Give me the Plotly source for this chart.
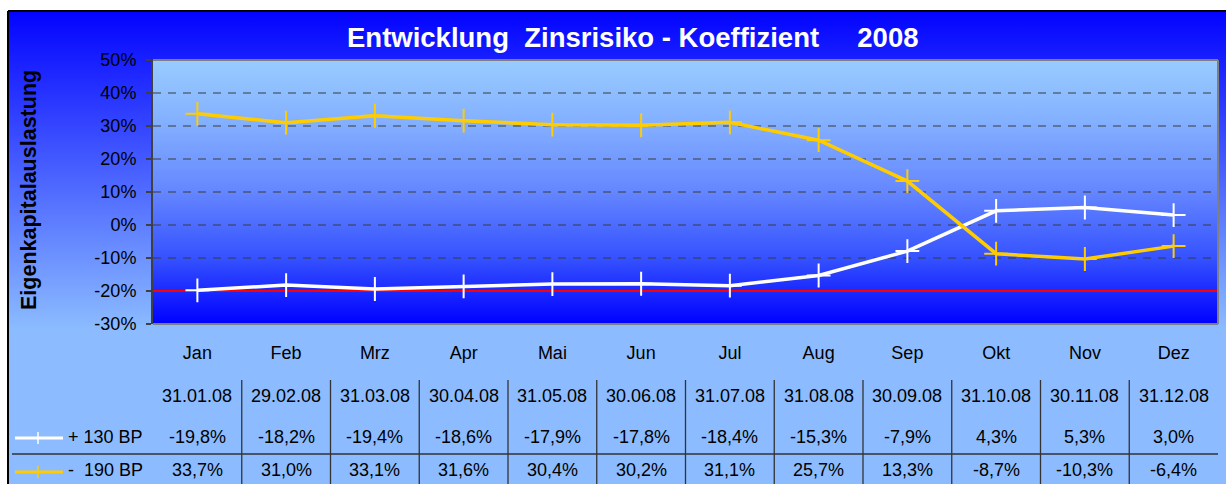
import base64
import plotly.graph_objects as go

# ---------------- data ----------------
months = ["Jan", "Feb", "Mrz", "Apr", "Mai", "Jun", "Jul", "Aug", "Sep", "Okt", "Nov", "Dez"]
dates = ["31.01.08", "29.02.08", "31.03.08", "30.04.08", "31.05.08", "30.06.08",
         "31.07.08", "31.08.08", "30.09.08", "31.10.08", "30.11.08", "31.12.08"]
plus130 = [-19.8, -18.2, -19.4, -18.6, -17.9, -17.8, -18.4, -15.3, -7.9, 4.3, 5.3, 3.0]
minus190 = [33.7, 31.0, 33.1, 31.6, 30.4, 30.2, 31.1, 25.7, 13.3, -8.7, -10.3, -6.4]
series_names = ["+ 130 BP", "-\u00a0\u00a0190 BP"]
y_tickvals = [-30, -20, -10, 0, 10, 20, 30, 40, 50]
y_ticktext = ["-30%", "-20%", "-10%", "0%", "10%", "20%", "30%", "40%", "50%"]
limit_value = -20
title_text = "Entwicklung\u00a0\u00a0Zinsrisiko - Koeffizient\u00a0\u00a0\u00a0\u00a0\u00a02008"
y_title = "Eigenkapitalauslastung"

# ---------------- geometry / style ----------------
W, H = 1226, 484
PX0, PX1 = 153, 1218
PY0, PY1 = 60, 324
FONT = "Liberation Sans, Arial, sans-serif"
WHITE = "#FFFFFF"
YELLOW = "#FFCC00"
FS = 18


def px(x):
    return x / W


def py(y):
    return 1 - y / H


svg = f'''<svg xmlns="http://www.w3.org/2000/svg" width="{W}" height="{H}" viewBox="0 0 {W} {H}" preserveAspectRatio="none">
<defs>
<linearGradient id="outer" x1="0" y1="0" x2="0" y2="1">
<stop offset="0" stop-color="#0303ff"/>
<stop offset="0.674" stop-color="#8cbcff"/>
<stop offset="1" stop-color="#8cbcff"/>
</linearGradient>
<linearGradient id="inner" x1="0" y1="0" x2="0" y2="1">
<stop offset="0" stop-color="#99ccff"/>
<stop offset="0.25" stop-color="#82aeff"/>
<stop offset="0.5" stop-color="#6486ff"/>
<stop offset="0.75" stop-color="#3552ff"/>
<stop offset="1" stop-color="#0000ff"/>
</linearGradient>
</defs>
<rect x="8" y="11" width="{W - 8}" height="{H - 11}" fill="url(#outer)"/>
<rect x="{PX0}" y="{PY0}" width="{PX1 - PX0}" height="{PY1 - PY0}" fill="url(#inner)"/>
</svg>'''
svg_uri = "data:image/svg+xml;base64," + base64.b64encode(svg.encode()).decode()

fig = go.Figure()

for vals, color, name in [(plus130, WHITE, series_names[0]), (minus190, YELLOW, series_names[1])]:
    fig.add_trace(go.Scatter(
        x=months, y=vals, mode="lines+markers", name=name,
        line=dict(color=color, width=3.5),
        marker=dict(symbol="cross-thin", size=17, color=color, line=dict(color=color, width=2)),
        showlegend=False, cliponaxis=False,
    ))

shapes = []
for v in y_tickvals[1:-1]:
    if v == limit_value:
        continue
    shapes.append(dict(type="line", xref="x domain", yref="y", x0=0, x1=1, y0=v, y1=v,
                       line=dict(color="#3a3a3a", width=1, dash="8px,7px"), layer="below"))
shapes.append(dict(type="line", xref="x domain", yref="y", x0=0, x1=1, y0=limit_value, y1=limit_value,
                   line=dict(color="#FF0000", width=2), layer="below"))
for (x0, y0, x1, y1) in [(0, 1, 1, 1), (1, 0, 1, 1), (0, 0, 1, 0)]:
    shapes.append(dict(type="line", xref="x domain", yref="y domain", x0=x0, y0=y0, x1=x1, y1=y1,
                       line=dict(color="#7f7f7f", width=2), layer="above"))
shapes.append(dict(type="line", xref="paper", yref="paper", x0=px(8), x1=1, y0=py(11), y1=py(11),
                   line=dict(color="#000000", width=2)))
shapes.append(dict(type="line", xref="paper", yref="paper", x0=px(8), x1=px(8), y0=py(11), y1=0,
                   line=dict(color="#000000", width=2)))
for i in range(len(months) - 1):
    shapes.append(dict(type="line", xref="x", yref="paper", x0=i + 0.5, x1=i + 0.5, y0=py(380), y1=0,
                       line=dict(color="#333333", width=1.3)))
shapes.append(dict(type="line", xref="paper", yref="paper", x0=px(12), x1=px(PX1), y0=py(454), y1=py(454),
                   line=dict(color="#333333", width=1.3)))
for ly, color in [(438, WHITE), (472, YELLOW)]:
    shapes.append(dict(type="line", xref="paper", yref="paper", x0=px(15), x1=px(63), y0=py(ly), y1=py(ly),
                       line=dict(color=color, width=3)))
    shapes.append(dict(type="line", xref="paper", yref="paper", x0=px(38), x1=px(38), y0=py(ly - 6), y1=py(ly + 6),
                       line=dict(color=color, width=1.5)))

annotations = []
annotations.append(dict(text=title_text, xref="paper", yref="paper", x=px(633), y=py(37),
                        xanchor="center", yanchor="middle", showarrow=False,
                        font=dict(family=FONT, size=27.5, color="white", weight="bold")))
annotations.append(dict(text=y_title, xref="paper", yref="paper", x=px(29), y=py(190), textangle=-90,
                        xanchor="center", yanchor="middle", showarrow=False,
                        font=dict(family=FONT, size=21.5, color="black", weight="bold")))
for i, m in enumerate(months):
    annotations.append(dict(text=dates[i], xref="x", yref="paper", x=m, y=py(396), showarrow=False,
                            yanchor="middle", font=dict(family=FONT, size=FS, color="black")))
    for vals, ry in [(plus130, 437), (minus190, 470)]:
        annotations.append(dict(text=f"{vals[i]:.1f}%".replace(".", ","), xref="x", yref="paper", x=m, y=py(ry),
                                showarrow=False, yanchor="middle",
                                font=dict(family=FONT, size=FS, color="black")))
for name, ry in zip(series_names, [437, 470]):
    annotations.append(dict(text=name, xref="paper", yref="paper", x=px(66), y=py(ry), xanchor="left",
                            yanchor="middle", showarrow=False,
                            font=dict(family=FONT, size=FS, color="black")))

fig.update_layout(
    width=W, height=H, autosize=False,
    margin=dict(l=0, r=0, t=0, b=0, pad=0),
    paper_bgcolor="white", plot_bgcolor="rgba(0,0,0,0)",
    font=dict(family=FONT, size=FS, color="black"),
    images=[dict(source=svg_uri, xref="paper", yref="paper", x=0, y=1, sizex=1, sizey=1,
                 xanchor="left", yanchor="top", sizing="stretch", layer="below")],
    shapes=shapes, annotations=annotations,
    xaxis=dict(type="category", domain=[px(PX0), px(PX1)], range=[-0.5, len(months) - 0.5],
               showgrid=False, showline=False, zeroline=False, ticks="", automargin=False,
               tickfont=dict(family=FONT, size=FS, color="black"), ticklabelstandoff=16),
    yaxis=dict(domain=[py(PY1), py(PY0)], range=[-30, 50], tickvals=y_tickvals, ticktext=y_ticktext,
               showgrid=False, zeroline=False, showline=True, linecolor="#404040", linewidth=2,
               ticks="outside", ticklen=5, tickwidth=1.5, tickcolor="#404040", automargin=False,
               tickfont=dict(family=FONT, size=FS, color="black"), ticklabelstandoff=6),
    showlegend=False,
)

fig.write_html("out.html", config={"displayModeBar": False},
               post_script="document.body.style.margin='0';")
